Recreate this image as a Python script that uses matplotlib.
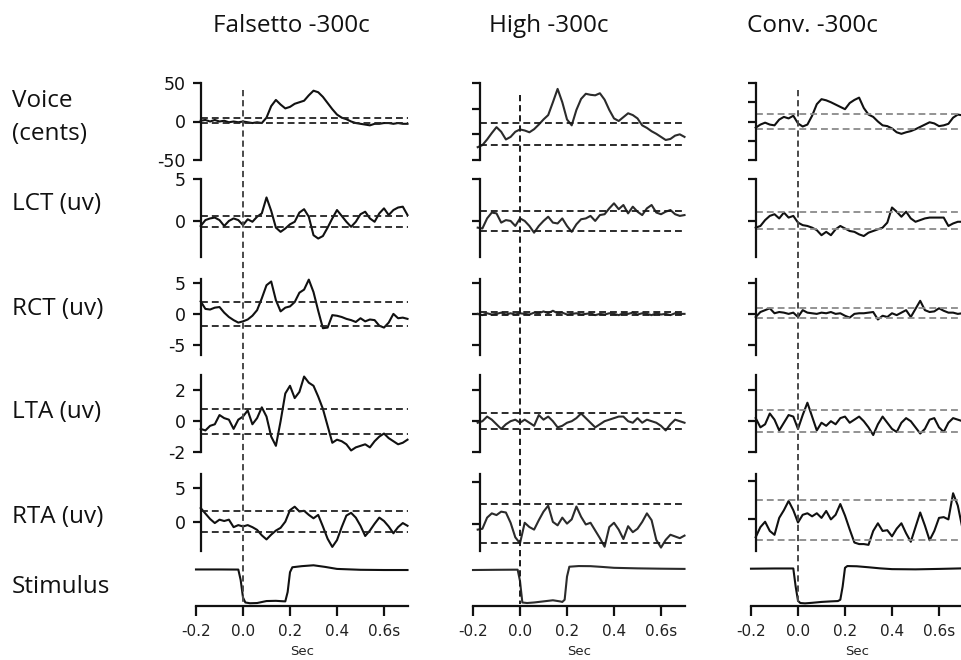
import numpy as np
import matplotlib.pyplot as plt
from matplotlib.transforms import blended_transform_factory

plt.rcParams["axes.unicode_minus"] = False

# time axis of the averaged traces (s)
t = np.round(np.arange(-0.18, 0.701, 0.02), 2)
# time axis of the stimulus trace (s)
stim_t = [-0.20, -0.10, -0.02, -0.01, 0.00, 0.01, 0.03, 0.06, 0.10, 0.14, 0.17,
          0.18, 0.19, 0.20, 0.21, 0.25, 0.30, 0.35, 0.40, 0.50, 0.60, 0.70]

# ---- Falsetto -300c ----
falsetto_voice = [1, 2, 0, 2, 0, 1, -1, 0, -1, 0, -1, -2, -1, -2, 5, 20, 28, 22, 17, 19,
                  23, 25, 27, 34, 40, 38, 32, 24, 16, 9, 5, 3, 0, -2, -3, -4, -5, -3, -3,
                  -2, -2, -3, -2, -3, -3]
falsetto_lct = [-0.6, 0.1, 0.3, 0.4, 0.1, -0.6, 0.0, 0.3, 0.1, -0.5, 0.2, -0.1, 0.5, 0.9,
                2.8, 1.2, -0.8, -1.3, -0.9, -0.4, -0.1, 1.0, 1.4, 0.5, -1.7, -2.1, -1.8,
                -0.8, 0.3, 1.3, 0.6, -0.1, -0.7, -0.1, 0.8, 1.1, 0.3, -0.1, 0.9, 1.5, 0.7,
                1.3, 1.6, 1.7, 0.7]
falsetto_rct = [2.0, 0.8, 0.7, 1.0, 1.1, 0.2, -0.5, -1.0, -1.4, -1.2, -0.9, -0.3, 0.6, 2.5,
                4.6, 5.2, 2.2, 0.4, 1.0, 1.2, 1.9, 3.4, 3.9, 5.5, 3.5, 0.5, -2.3, -2.2,
                -0.2, -0.3, -0.5, -0.8, -1.0, -1.3, -0.7, -1.2, -0.9, -1.0, -1.9, -2.2,
                -1.4, 0.0, -0.7, -0.6, -0.8]
falsetto_lta = [-0.5, -0.6, -0.3, -0.2, 0.4, 0.2, 0.1, -0.5, 0.1, 0.3, 0.7, -0.2, 0.2, 0.9,
                0.3, -1.0, -1.6, 0.0, 1.8, 2.3, 1.5, 1.9, 2.9, 2.5, 2.3, 1.6, 0.8, -0.3,
                -1.4, -1.2, -1.3, -1.5, -1.9, -1.7, -1.6, -1.5, -1.7, -1.3, -1.0, -0.8,
                -1.1, -1.3, -1.5, -1.4, -1.2]
falsetto_rta = [2.0, 1.2, 0.4, -0.2, 0.3, 0.1, 0.3, -0.8, -0.5, -0.7, -0.5, -0.8, -1.2, -2.0,
                -2.6, -1.9, -1.3, -0.9, 0.0, 1.7, 2.2, 1.5, 1.6, 1.0, 0.5, 1.0, -0.7, -2.5,
                -3.7, -2.7, -0.8, 0.9, 1.3, 0.6, -0.6, -2.1, -1.3, -0.3, 0.6, 0.1, -0.7,
                -1.7, -0.8, -0.2, -0.6]
falsetto_stim = [5, 5, 4, -90, -250, -295, -302, -300, -282, -280, -284, -285, -200, -20,
                 25, 35, 43, 28, 10, 2, 0, 0]

# ---- High -300c ----
high_voice = [-100, -92, -70, -45, -22, -40, -70, -60, -40, -31, -35, -42, -30, -12, 8, 25,
              75, 127, 75, 8, -15, 45, 88, 108, 104, 102, 110, 85, 45, 12, 2, 17, 32, 25,
              12, -15, -25, -38, -48, -60, -72, -68, -55, -50, -60]
high_lct = [-0.8, -0.9, 0.3, 1.0, 0.9, -0.2, 0.1, 0.0, -0.6, 0.3, 0.0, -0.6, -1.4, -0.6,
            0.0, 0.5, -0.2, -0.3, 0.3, -0.6, -1.3, -0.4, 0.2, 0.3, 0.6, 0.0, 0.7, 0.8, 1.5,
            2.1, 1.4, 1.9, 0.9, 1.7, 1.1, 0.7, 1.5, 1.9, 1.0, 0.8, 1.1, 1.3, 0.8, 0.6, 0.7]
high_rct = [0.0, -0.2, 0.1, -0.1, 0.0, 0.2, -0.1, 0.1, -0.1, 0.1, 0.0, -0.1, 0.2, 0.1, 0.4,
            0.1, 0.5, 0.1, 0.2, -0.1, 0.0, 0.1, -0.1, 0.0, 0.1, -0.2, 0.0, -0.1, 0.1, 0.0,
            -0.2, 0.1, 0.0, 0.2, -0.1, 0.1, 0.0, -0.2, 0.1, -0.1, 0.0, -0.2, 0.1, 0.0, 0.0]
high_lta = [-0.1, 0.0, 0.3, 0.1, -0.2, -0.5, -0.2, 0.0, 0.1, -0.1, 0.1, -0.1, -0.3, 0.4,
            0.1, 0.3, 0.0, -0.4, -0.3, -0.1, 0.0, 0.2, 0.5, 0.2, -0.1, -0.4, -0.2, 0.0,
            0.1, 0.2, 0.3, 0.3, 0.0, -0.1, 0.2, -0.1, 0.1, 0.0, -0.1, -0.3, -0.6, -0.2,
            0.1, 0.0, -0.1]
high_rta = [-0.6, -0.5, 0.8, 1.3, 1.1, 1.5, 1.4, 0.2, -1.5, -2.2, 0.2, -0.3, -0.6, 0.5,
            1.5, 2.2, 0.3, -0.1, 0.8, 0.1, 0.6, 2.1, 0.9, 0.0, 0.2, -0.7, -1.6, -2.6,
            -0.3, 0.2, -0.6, -1.7, -0.2, -0.9, -0.5, 0.3, 1.3, 0.5, -1.8, -2.7, -1.8,
            -1.2, -1.4, -1.6, -1.3]
high_stim = [0, 2, 3, 3, -100, -295, -300, -295, -285, -275, -285, -290, -270, -60, 30,
             36, 35, 28, 20, 15, 12, 10]

# ---- Conv. -300c ----
conv_voice = [-16, -8, -3, -8, -10, 5, 12, 8, 15, -5, -13, -8, 15, 45, 58, 55, 50, 44, 38,
              32, 48, 56, 62, 35, 18, 12, 0, -10, -12, -18, -28, -32, -28, -25, -20, -14,
              -8, -2, -5, -12, -10, -6, 10, 18, 16]
conv_lct = [-0.8, -0.6, 0.1, 0.6, 0.8, 0.3, 1.0, 0.4, 0.6, -0.2, -0.5, -0.6, -0.8, -1.1,
            -1.7, -1.3, -1.7, -1.0, -0.6, -0.9, -1.2, -1.3, -1.6, -1.8, -1.4, -1.2, -1.0,
            -0.8, -0.2, 1.6, 1.1, 0.5, 1.1, 0.3, -0.1, 0.1, 0.3, 0.4, 0.4, 0.4, 0.4,
            -0.6, -0.3, -0.1, -0.1]
conv_rct = [-0.5, 0.3, 0.6, 0.9, 0.1, 0.3, 0.2, 0.0, 0.2, -0.5, 0.6, 0.2, 0.1, 0.0, 0.2,
            0.1, 0.3, 0.0, 0.1, -0.3, -0.6, 0.0, 0.1, 0.1, 0.2, 0.3, -0.9, -0.3, -0.5,
            0.1, -0.2, 0.2, 0.6, -0.5, 0.8, 2.1, 0.6, 0.3, 0.4, 0.9, 0.5, 0.2, 0.2, 0.0, 0.1]
conv_lta = [0.2, -0.4, -0.2, 0.5, 0.1, -0.6, -0.1, 0.4, 0.3, -0.5, 0.4, 1.2, 0.3, -0.6,
            -0.1, -0.3, 0.0, -0.2, 0.2, 0.3, -0.1, 0.1, 0.3, 0.0, -0.4, -0.9, -0.2, 0.3,
            -0.1, -0.5, -0.7, -0.1, 0.2, 0.0, -0.4, -0.8, -0.5, 0.1, 0.2, -0.4, -0.7,
            -0.1, 0.2, 0.1, 0.0]
conv_rta = [-2.3, -1.0, -0.3, -1.5, -2.0, 0.2, 1.2, 2.4, 1.2, -0.4, 0.6, 0.8, 0.4, 0.8,
            0.2, 1.1, 0.0, 0.6, 2.0, 0.5, -1.3, -3.0, -3.2, -3.2, -3.3, -1.5, -0.5, -1.5,
            -1.4, -2.2, -1.2, -0.5, -1.8, -2.9, -1.0, 0.9, -0.8, -2.7, -1.5, 0.2, 0.3,
            0.0, 3.4, 1.8, -1.2]
conv_stim = [12, 14, 14, -150, -280, -300, -303, -298, -290, -285, -282, -270, -150, 20,
             36, 34, 25, 15, 8, 6, 10, 15]

# threshold lines (lower, upper) per panel
falsetto_thr = [(-2.5, 4), (-0.75, 0.6), (-1.9, 1.9), (-0.84, 0.78), (-1.5, 1.5)]
high_thr = [(-90, -7), (-1.15, 1.15), (-0.25, 0.25), (-0.52, 0.54), (-2.2, 2.4)]
conv_thr = [(-20, 19), (-0.98, 1.06), (-0.7, 0.9), (-0.73, 0.71), (-2.65, 2.48)]

titles = ["Falsetto -300c", "High -300c", "Conv. -300c"]
row_labels = ["Voice\n(cents)", "LCT (uv)", "RCT (uv)", "LTA (uv)", "RTA (uv)"]

traces = [
    [falsetto_voice, falsetto_lct, falsetto_rct, falsetto_lta, falsetto_rta],
    [high_voice, high_lct, high_rct, high_lta, high_rta],
    [conv_voice, conv_lct, conv_rct, conv_lta, conv_rta],
]
stims = [falsetto_stim, high_stim, conv_stim]
thresholds = [falsetto_thr, high_thr, conv_thr]

ylims = [
    [(-50, 50), (-4.3, 5), (-6.6, 5.6), (-2, 3), (-4.3, 7)],
    [(-150, 150), (-4.3, 5), (-6.6, 5.6), (-2, 3), (-3.1, 5.9)],
    [(-100, 100), (-4.3, 5), (-6.6, 5.6), (-2, 3), (-4.1, 5.9)],
]
yticks = [
    [[-50, 0, 50], [0, 5], [-5, 0, 5], [-2, 0, 2], [0, 5]],
    [[-150, -50, 50, 150], [0, 5], [-5, 0, 5], [-2, 0, 2], [0, 5]],
    [[-100, -50, 0, 50, 100], [0, 5], [-5, 0, 5], [-2, 0, 2], [0, 5]],
]

# layout in pixels
W, H = 961, 660
col_left = [196, 473, 751]
col_width = 211.5
row_box = [(83, 160), (179, 257), (279, 355), (375, 452), (474, 551)]
stim_box = (560, 606)
spine_x = [-0.18, -0.17, -0.18]
title_x = [291, 549, 812]
vline_top = [90, 95, 90]
label_base = [106.7, 210, 315, 418.3, 522.7]

trace_col = ["#111111", "#2b2b2b", "#111111"]
thr_col = ["#222222", "#1a1a1a", "#8a8a8a"]
vline_col = ["#4a4a4a", "#1a1a1a", "#4a4a4a"]


def box(x0, x1, y0, y1):
    return [x0 / W, 1 - y1 / H, (x1 - x0) / W, (y1 - y0) / H]


fig = plt.figure(figsize=(W / 100, H / 100), dpi=100)
lab_font = "Open Sans"

for c in range(3):
    x0 = col_left[c]
    for r in range(5):
        ax = fig.add_axes(box(x0, x0 + col_width, *row_box[r]))
        ax.patch.set_visible(False)
        ax.set_xlim(-0.2, 0.7)
        ax.set_ylim(*ylims[c][r])
        ax.plot(t, traces[c][r], color=trace_col[c], lw=1.5, clip_on=False,
                solid_joinstyle="round")
        ax.hlines(thresholds[c][r], spine_x[c], 0.7, colors=thr_col[c], lw=1.3,
                  linestyles=(0, (3.8, 2.2)))
        for s in ["top", "right", "bottom"]:
            ax.spines[s].set_visible(False)
        ax.spines["left"].set_position(("data", spine_x[c]))
        ax.spines["left"].set_linewidth(1.6)
        ax.spines["left"].set_color("#111111")
        ax.set_xticks([])
        ax.set_yticks(yticks[c][r])
        ax.tick_params(axis="y", direction="out", length=6, width=1.6, pad=5,
                       labelsize=12.5, labelleft=(c == 0), colors="#111111")

    # stimulus trace with time axis
    ax = fig.add_axes(box(x0, x0 + col_width, *stim_box))
    ax.patch.set_visible(False)
    ax.set_xlim(-0.2, 0.7)
    ax.set_ylim(-327, 91)
    ax.plot(stim_t, stims[c], color=trace_col[c], lw=1.5, clip_on=False)
    for s in ["top", "right", "left"]:
        ax.spines[s].set_visible(False)
    ax.spines["bottom"].set_linewidth(1.6)
    ax.spines["bottom"].set_color("#111111")
    ax.set_yticks([])
    ax.set_xticks([-0.2, 0.0, 0.2, 0.4, 0.6])
    ax.set_xticklabels(["-0.2", "0.0", "0.2", "0.4", "0.6s"])
    ax.tick_params(axis="x", direction="out", length=7, width=1.6, pad=6,
                   labelsize=11, colors="#111111", labelcolor="#222222")
    ax.set_xlabel("Sec", fontsize=9.5, labelpad=4, color="#222222")

    # stimulus onset line through all panels
    tr = blended_transform_factory(ax.transData, fig.transFigure)
    ax.plot([0, 0], [1 - vline_top[c] / H, 1 - 604 / H], transform=tr,
            color=vline_col[c], lw=1.4, ls=(0, (3.2, 2.0)), clip_on=False)

    fig.text(title_x[c] / W, 1 - 31.7 / H, titles[c], ha="center", va="baseline",
             fontsize=17.5, family=lab_font, color="#111111")

fig.text(12 / W, 1 - 106.7 / H, "Voice", fontsize=17.5, family=lab_font,
         va="baseline", color="#111111")
fig.text(12 / W, 1 - 140 / H, "(cents)", fontsize=17.5, family=lab_font,
         va="baseline", color="#111111")
for r in range(1, 5):
    fig.text(12 / W, 1 - label_base[r] / H, row_labels[r], fontsize=17.5,
             family=lab_font, va="baseline", color="#111111")
fig.text(12 / W, 1 - 593.3 / H, "Stimulus", fontsize=17.5, family=lab_font,
         va="baseline", color="#111111")

fig.savefig("out.png", dpi=100)
